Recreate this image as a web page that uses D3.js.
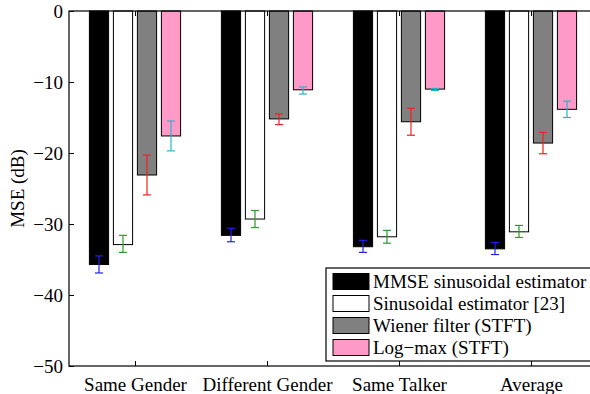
<!DOCTYPE html>
<html><head><meta charset="utf-8">
<script src="https://cdn.jsdelivr.net/npm/d3@7"></script>
</head><body style="margin:0;background:#fff">
<svg id="c" width="590" height="394" style="font-family:'Liberation Serif'"></svg>
<script>
const categories = ["Same Gender", "Different Gender", "Same Talker", "Average"];
const seriesNames = ["MMSE sinusoidal estimator", "Sinusoidal estimator [23]", "Wiener filter (STFT)", "Log\u2212max (STFT)"];
const mmse     = [-35.7, -31.6, -33.2, -33.5];
const sinus    = [-32.9, -29.3, -31.8, -31.1];
const wiener   = [-23.1, -15.2, -15.6, -18.6];
const logmax   = [-17.6, -11.1, -11.0, -13.85];
const mmseErr   = [[-34.5,-36.9],[-30.6,-32.5],[-32.3,-34.0],[-32.6,-34.3]];
const sinusErr  = [[-31.6,-34.0],[-28.1,-30.5],[-30.9,-32.7],[-30.2,-31.9]];
const wienerErr = [[-20.3,-25.9],[-14.5,-16.0],[-13.7,-17.5],[-17.1,-20.1]];
const logmaxErr = [[-15.5,-19.7],[-10.7,-11.7],[-10.9,-11.2],[-12.7,-15.0]];
const yTicks = [0, -10, -20, -30, -40, -50];

const fills = ["#000000", "#ffffff", "#808080", "#ff99c8"];
const errColors = ["#2222ee", "#2e9a2e", "#ee2222", "#22b8c8"];
const series = [mmse, sinus, wiener, logmax];
const errs = [mmseErr, sinusErr, wienerErr, logmaxErr];
const FS = 19;

const svg = d3.select("#c");
const pL = 69, pT = 11, pB = 366, pR = 597;
const x = d3.scaleLinear().domain([0.5, 4.5]).range([pL, pR]);
const y = d3.scaleLinear().domain([0, -50]).range([pT, pB]);
const gw = 4 / 5.5; // MATLAB group width
const offsets = [0,1,2,3].map(i => -gw/2 + (2*i+1)*gw/8);
const bw = gw/4*0.8;

function serif(sel) { return sel.style("font-family", '"Liberation Serif"').attr("font-size", FS); }

// bars
series.forEach((vals, si) => {
  svg.append("g").selectAll("rect").data(vals).join("rect")
    .attr("x", (d,i) => x(i+1+offsets[si]-bw/2))
    .attr("width", x(bw) - x(0))
    .attr("y", y(0))
    .attr("height", d => y(d) - y(0))
    .attr("fill", fills[si])
    .attr("stroke", "#000").attr("stroke-width", 1);
});
// error bars
errs.forEach((ev, si) => {
  const g = svg.append("g").attr("stroke", errColors[si]).attr("stroke-width", 1.2).attr("fill","none");
  ev.forEach((e, i) => {
    const cx = x(i+1+offsets[si]);
    g.append("line").attr("x1", cx).attr("x2", cx).attr("y1", y(e[0])).attr("y2", y(e[1]));
    g.append("line").attr("x1", cx-4).attr("x2", cx+4).attr("y1", y(e[0])).attr("y2", y(e[0]));
    g.append("line").attr("x1", cx-4).attr("x2", cx+4).attr("y1", y(e[1])).attr("y2", y(e[1]));
  });
});

// axes box
svg.append("rect").attr("x", pL).attr("y", pT).attr("width", pR-pL).attr("height", pB-pT)
  .attr("fill","none").attr("stroke", "#000").attr("stroke-width", 1.2);

// y axis
const yAxis = d3.axisLeft(y).tickValues(yTicks).tickSize(-5).tickPadding(6).tickFormat(d => d === 0 ? "0" : "\u2212" + Math.abs(d));
const yg = svg.append("g").attr("transform", `translate(${pL},0)`).call(yAxis);
yg.select(".domain").remove();
yg.attr("font-family", null).attr("font-size", null);
serif(yg.selectAll("text")).attr("fill","#000");
yg.selectAll("line").attr("stroke","#000");

// x axis
const xAxis = d3.axisBottom(x).tickValues([1,2,3,4]).tickSize(-5).tickPadding(12).tickFormat((d,i) => categories[i]);
const xg = svg.append("g").attr("transform", `translate(0,${pB})`).call(xAxis);
xg.select(".domain").remove();
xg.attr("font-family", null).attr("font-size", null);
serif(xg.selectAll("text")).attr("fill","#000");
xg.selectAll("line").attr("stroke","#000");
// top ticks
const xTop = d3.axisTop(x).tickValues([1,2,3,4]).tickSize(-5).tickFormat("");
const xtg = svg.append("g").attr("transform", `translate(0,${pT})`).call(xTop);
xtg.select(".domain").remove();
xtg.selectAll("line").attr("stroke","#000");

// y label
serif(svg.append("text").attr("transform", `translate(24,${(pT+pB)/2}) rotate(-90)`)
  .attr("text-anchor","middle")).text("MSE (dB)");

// legend
const lg = svg.append("g");
lg.append("rect").attr("x", 326).attr("y", 268).attr("width", 280).attr("height", 93)
  .attr("fill","#fff").attr("stroke","#000").attr("stroke-width",1.2);
seriesNames.forEach((n, i) => {
  const cy = 281.5 + i*22;
  lg.append("rect").attr("x", 333).attr("y", cy-8).attr("width", 36).attr("height", 16)
    .attr("fill", fills[i]).attr("stroke","#000").attr("stroke-width",1);
  serif(lg.append("text").attr("x", 373).attr("y", cy+6)).text(n);
});
</script>
</body></html>
